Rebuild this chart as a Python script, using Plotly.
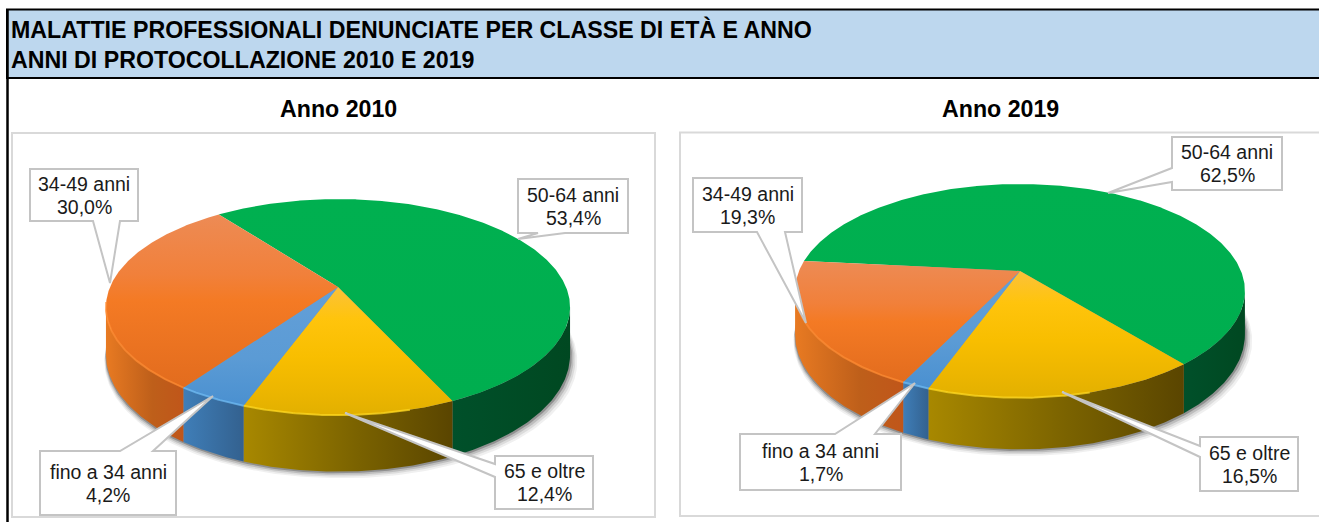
import math
import plotly.graph_objects as go

# ---- data ----
categories = ["50-64 anni", "65 e oltre", "fino a 34 anni", "34-49 anni"]
values_2010 = [53.4, 12.4, 4.2, 30.0]
values_2019 = [62.5, 16.5, 1.7, 19.3]
chart_titles = ["Anno 2010", "Anno 2019"]
header_lines = ["MALATTIE PROFESSIONALI DENUNCIATE PER CLASSE DI ETÀ E ANNO",
                "ANNI DI PROTOCOLLAZIONE 2010 E 2019"]

# ---- styles: one entry per category ----
top_grad = [
    [[0, "#00B050"], [1, "#00AE4F"]],
    [[0, "#FBC13A"], [0.25, "#FFC40C"], [0.55, "#F8BE00"], [0.8, "#EDB600"], [1, "#E2B000"]],
    [[0, "#639FD8"], [0.6, "#5B9BD5"], [1, "#4A90D0"]],
    [[0, "#ED8B55"], [0.35, "#F1803A"], [0.5, "#F47A24"], [1, "#E26C1E"]],
]
wall_grad = [
    [[0, "#00502A"], [1, "#004821"]],
    [[0, "#A88800"], [0.55, "#7A6200"], [1, "#5A4500"]],
    [[0, "#3F7EB8"], [1, "#33618F"]],
    [[0, "#E87A22"], [0.6, "#BE5F1A"], [1, "#C0561A"]],
]
rim = ["#00B455", "#FFD81E", "#6DBBF5", "#FF8A30"]
FONT = "Liberation Sans, Arial, sans-serif"
BORDER = "#C4C4C4"

K_BASE = 0.186


def project(theta, geo):
    """Perspective mapping of the unit circle; theta clockwise from the top."""
    sx, sy = math.sin(theta), math.cos(theta)
    d = 1 + geo["k"] * sy
    return geo["cx"] + geo["R"] * sx / d, geo["cy"] - geo["h"] * sy / d, 1 / d


def arc(a0, a1, geo, n_per_deg=1):
    n = max(4, int(abs(a1 - a0) * n_per_deg))
    return [math.radians(a0 + (a1 - a0) * i / n) for i in range(n + 1)]


def add_pie(fig, values, geo):
    vis0 = 90 + math.degrees(math.asin(geo["k"]))
    vis1 = 360 - vis0
    total = sum(values)
    depth = geo["depth"]

    # soft shadow under the disc
    for grow, op in [(8, 0.07), (6, 0.10), (4, 0.16), (2, 0.30)]:
        xs, ys = [], []
        for t in arc(vis0 - 40, vis1 + 40, geo):
            x, y, s = project(t, geo)
            xs.append(x + (grow * 0.9 if math.sin(t) > 0 else -grow * 0.2))
            ys.append(y + depth * s + grow * 0.8)
        fig.add_trace(go.Scatter(x=xs, y=ys, mode="lines", fill="toself",
                                 line=dict(width=0), fillcolor=f"rgba(40,40,40,{op})",
                                 hoverinfo="skip", showlegend=False))

    # side walls
    ang = geo["start"]
    spans = []
    for v in values:
        a1 = ang + v / total * 360
        spans.append((ang, a1))
        ang = a1
    for i, (a0, a1) in enumerate(spans):
        best = None
        for off in (-360, 0, 360):
            lo, hi = max(a0 + off, vis0), min(a1 + off, vis1)
            if hi > lo:
                best = (lo, hi)
        if not best:
            continue
        ts = arc(best[0], best[1], geo, 2)
        pts = [project(t, geo) for t in ts]
        xs = [p[0] for p in pts] + [p[0] for p in reversed(pts)]
        ys = [p[1] for p in pts] + [p[1] + depth * p[2] for p in reversed(pts)]
        xmin, xmax = min(xs), max(xs)
        fig.add_trace(go.Scatter(x=xs, y=ys, mode="lines", fill="toself", line=dict(width=0),
                                 fillgradient=dict(type="horizontal", colorscale=wall_grad[i],
                                                   start=xmin, stop=xmax),
                                 hoverinfo="skip", showlegend=False))

    # top faces
    for i, (a0, a1) in enumerate(spans):
        pts = [project(t, geo) for t in arc(a0, a1, geo, 2)]
        xs = [geo["cx"]] + [p[0] for p in pts] + [geo["cx"]]
        ys = [geo["cy"]] + [p[1] for p in pts] + [geo["cy"]]
        fig.add_trace(go.Scatter(x=xs, y=ys, mode="lines", fill="toself", line=dict(width=0),
                                 fillgradient=dict(type="vertical", colorscale=top_grad[i],
                                                   start=min(ys), stop=max(ys)),
                                 hoverinfo="skip", showlegend=False))

    # bright rim on the front edge
    for i, (a0, a1) in enumerate(spans):
        lo, hi = max(a0, 165), min(a1, 262)
        if hi <= lo:
            continue
        pts = [project(t, geo) for t in arc(lo, hi, geo, 2)]
        fig.add_trace(go.Scatter(x=[p[0] for p in pts], y=[p[1] for p in pts], mode="lines",
                                 line=dict(width=2, color=rim[i]), opacity=0.75,
                                 hoverinfo="skip", showlegend=False))


def callout_path(box, edge, a, b, tip):
    x0, y0, x1, y1 = box
    if edge == "bottom":
        pts = [(x0, y0), (x1, y0), (x1, y1), (b, y1), tip, (a, y1), (x0, y1)]
    elif edge == "top":
        pts = [(x0, y0), (a, y0), tip, (b, y0), (x1, y0), (x1, y1), (x0, y1)]
    else:  # left
        pts = [(x0, y0), (x1, y0), (x1, y1), (x0, y1), (x0, b), tip, (x0, a)]
    return "M " + " L ".join(f"{x} {y}" for x, y in pts) + " Z"


def pct(v):
    return f"{v:.1f}".replace(".", ",") + "%"


fig = go.Figure()
geo_left = dict(cx=338, cy=287, R=228, h=104.3, k=K_BASE, start=-36.9, depth=46)
geo_right = dict(cx=1020, cy=271, R=221, h=103.2, k=K_BASE, start=-84.4, depth=42)
add_pie(fig, values_2010, geo_left)
add_pie(fig, values_2019, geo_right)

shapes = [
    dict(type="rect", x0=7, y0=9.5, x1=1325, y1=78, fillcolor="#BDD7EE",
         line=dict(color="#000000", width=2), layer="below"),
    dict(type="line", x0=7.5, y0=9, x1=7.5, y1=530, line=dict(color="#000000", width=2.5), layer="below"),
    dict(type="rect", x0=12, y0=133, x1=655, y1=517, fillcolor="#FFFFFF",
         line=dict(color="#D9D9D9", width=2), layer="below"),
    dict(type="rect", x0=680, y0=132.5, x1=1325, y1=516, fillcolor="#FFFFFF",
         line=dict(color="#D9D9D9", width=2), layer="below"),
]

callouts_2010 = [
    ((518, 179, 628, 233), "bottom", 538, 565, (518, 239)),
    ((495, 456, 593, 509), "left", 464, 477, (345, 413)),
    ((40, 451, 176, 515), "top", 120, 153, (213, 396)),
    ((30, 169, 138, 221), "bottom", 93, 120, (110, 283)),
]
callouts_2019 = [
    ((1172, 137, 1282, 190), "left", 168, 182, (1108, 193)),
    ((1200, 437, 1298, 491), "left", 446, 457, (1062, 392)),
    ((740, 434, 901, 490), "top", 835, 875, (915, 383)),
    ((693, 178, 802, 232), "bottom", 757, 785, (806, 323)),
]

annotations = []
for values, calls in ((values_2010, callouts_2010), (values_2019, callouts_2019)):
    for cat, v, (box, edge, a, b, tip) in zip(categories, values, calls):
        shapes.append(dict(type="path", path=callout_path(box, edge, a, b, tip),
                           fillcolor="#FFFFFF", line=dict(color=BORDER, width=2), layer="above"))
        xc, yc = (box[0] + box[2]) / 2, (box[1] + box[3]) / 2
        for txt, dy in ((cat, -11.5), (pct(v), 11.5)):
            annotations.append(dict(x=xc, y=yc + dy, text=txt, showarrow=False, xref="x", yref="y",
                                    font=dict(family=FONT, size=19.5, color="#1A1A1A"),
                                    xanchor="center", yanchor="middle"))

for line, y in zip(header_lines, (29.5, 59.5)):
    annotations.append(dict(x=9, y=y, text=f"<b>{line}</b>", showarrow=False, xref="x", yref="y",
                            font=dict(family=FONT, size=23.2, color="#000000"),
                            xanchor="left", yanchor="middle"))
for title, x in zip(chart_titles, (338, 1000)):
    annotations.append(dict(x=x, y=109, text=f"<b>{title}</b>", showarrow=False, xref="x", yref="y",
                            font=dict(family=FONT, size=23.2, color="#000000"),
                            xanchor="center", yanchor="middle"))

fig.update_layout(
    width=1319, height=522, margin=dict(l=0, r=0, t=0, b=0),
    paper_bgcolor="#FFFFFF", plot_bgcolor="rgba(0,0,0,0)", showlegend=False,
    xaxis=dict(range=[0, 1319], visible=False, fixedrange=True),
    yaxis=dict(range=[522, 0], visible=False, fixedrange=True),
    shapes=shapes, annotations=annotations,
)
fig.write_html("out.html", config={"displayModeBar": False},
               post_script="document.body.style.margin='0';document.documentElement.style.overflow='hidden';")
